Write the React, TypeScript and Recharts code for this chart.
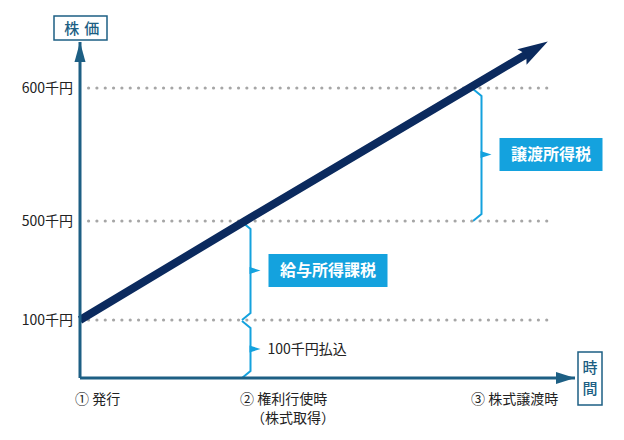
import React from 'react';
import { LineChart, Line, XAxis, YAxis, ReferenceLine, ReferenceArea, ReferenceDot } from 'recharts';

// 時間（模式的な目盛）と株価（千円）
const times = [0, 5, 11.8, 13.55];
const prices = [100, 500, 600, 626];

const xTicks = [0, 5, 12];
const xTickLabels = ['① 発行', '② 権利行使時', '③ 株式譲渡時'];
const xTickSubLabels = ['', '（株式取得）', ''];

const yTicks = [100, 500, 600];

// braces: where, from which price to which, and the text beside them
const braceAt = [12, 5, 5];
const braceTop = [600, 500, 100];
const braceBottom = [500, 100, 0];
const braceLabels = ['譲渡所得税', '給与所得課税', '100千円払込'];
const braceBoxed = [true, true, false];

const AXIS = '#1d5f84';
const NAVY = '#0b2a5e';
const BLUE = '#14a2de';
const DOT = '#a6a6a6';
const INK = '#222';
const FONT = '"Noto Sans CJK JP", "Noto Sans", sans-serif';

// the price axis is schematic, not linear: value -> share of the plot height
const yStops: [number, number][] = [[0, 0], [100, 0.1726], [500, 0.4673], [600, 0.8631], [635, 1]];

function schematicScale(): any {
  let dom: number[] = [0, 635];
  let rng: number[] = [1, 0];
  const frac = (v: number) => {
    let i = 1;
    while (i < yStops.length - 1 && v > yStops[i][0]) i++;
    const [v0, f0] = yStops[i - 1];
    const [v1, f1] = yStops[i];
    return f0 + ((v - v0) / (v1 - v0)) * (f1 - f0);
  };
  const scale: any = (v: number) => rng[0] + frac(Number(v)) * (rng[1] - rng[0]);
  scale.domain = (d?: number[]) => {
    if (d === undefined) return dom;
    dom = [...d];
    return scale;
  };
  scale.range = (r?: number[]) => {
    if (r === undefined) return rng;
    rng = [...r];
    return scale;
  };
  scale.copy = () => schematicScale().domain(dom).range(rng);
  scale.ticks = () => yTicks;
  return scale;
}

const lineData = times.map((t, i) => ({ t, price: prices[i] }));

const ArrowHead = (props: any) => {
  const { cx, cy, index, points } = props;
  if (index !== times.length - 1) return <g key={index} />;
  let ang = -30.8;
  if (points && points[index - 1]) {
    const prev = points[index - 1];
    ang = (Math.atan2(cy - prev.y, cx - prev.x) * 180) / Math.PI;
  }
  return (
    <polygon
      key={index}
      points="24,0 -6,-9 -1,0 -6,9"
      fill={NAVY}
      transform={`translate(${cx},${cy}) rotate(${ang})`}
    />
  );
};

const XTick = ({ x, y, index }: any) => (
  <g>
    <text x={x - 5} y={y + 18} fontSize={14} fill={INK} fontFamily={FONT}>
      {xTickLabels[index]}
    </text>
    {xTickSubLabels[index] && (
      <text x={x + 6} y={y + 37} fontSize={14} fill={INK} fontFamily={FONT}>
        {xTickSubLabels[index]}
      </text>
    )}
  </g>
);

const YTick = ({ x, y, payload }: any) => (
  <text x={x + 1} y={y + 5} textAnchor="end" fontSize={14} fill={INK} fontFamily={FONT}>
    {payload.value}千円
  </text>
);

const YArrow = ({ cx, cy }: any) => (
  <g>
    <polygon points={`${cx},${cy} ${cx - 5.5},${cy + 20} ${cx + 5.5},${cy + 20}`} fill={AXIS} />
    <rect x={cx - 26} y={cy - 26} width={53} height={24} fill="#fff" stroke={AXIS} strokeWidth={1.5} />
    <text x={cx - 8.3} y={cy - 8} textAnchor="middle" fontSize={15} fill={AXIS} fontFamily={FONT} fontWeight={500}>株</text>
    <text x={cx + 11.7} y={cy - 8} textAnchor="middle" fontSize={15} fill={AXIS} fontFamily={FONT} fontWeight={500}>価</text>
  </g>
);

const XArrow = ({ cx, cy }: any) => (
  <g>
    <polygon points={`${cx},${cy} ${cx - 19},${cy - 6} ${cx - 19},${cy + 6}`} fill={AXIS} />
    <rect x={cx + 3} y={cy - 26} width={24} height={53} fill="#fff" stroke={AXIS} strokeWidth={1.5} />
    <text x={cx + 15} y={cy - 5} textAnchor="middle" fontSize={15} fill={AXIS} fontFamily={FONT} fontWeight={500}>時</text>
    <text x={cx + 15} y={cy + 16} textAnchor="middle" fontSize={15} fill={AXIS} fontFamily={FONT} fontWeight={500}>間</text>
  </g>
);

const Brace = ({ x, y, height, label, boxed }: any) => {
  const ax = x - 3;
  const vx = x + 5.5;
  const top = y + 1;
  const bot = y + height;
  const mid = y + height / 2;
  const w = label.length * 16 + 23;
  return (
    <g>
      <path
        d={`M${ax},${top} L${vx},${top + 7} L${vx},${bot - 7} L${ax},${bot}`}
        fill="none"
        stroke={BLUE}
        strokeWidth={2}
        strokeLinejoin="miter"
      />
      <polygon points={`${vx - 1},${mid - 3.5} ${vx + 10},${mid} ${vx - 1},${mid + 3.5}`} fill={BLUE} />
      {boxed ? (
        <g>
          <rect x={vx + 18} y={mid - 16.5} width={w} height={33} fill={BLUE} />
          <text x={vx + 18 + w / 2} y={mid + 6} textAnchor="middle" fontSize={16} fontWeight="bold" fill="#fff" fontFamily={FONT}>
            {label}
          </text>
        </g>
      ) : (
        <text x={vx + 17} y={mid + 5} fontSize={14} fill={INK} fontFamily={FONT}>
          {label}
        </text>
      )}
    </g>
  );
};

export default function App() {
  return (
    <div style={{ position: 'absolute', left: 0, top: 0, width: 624, height: 440, background: '#fff' }}>
      <LineChart width={624} height={440} data={lineData} margin={{ top: 42, right: 49, bottom: 0, left: 0 }}>
        {yTicks.map((v) => (
          <ReferenceLine
            key={`lvl-${v}`}
            segment={[{ x: 0.26, y: v }, { x: 14.2, y: v }]}
            stroke={DOT}
            strokeWidth={3.2}
            strokeDasharray="0 8.33"
            strokeLinecap="round"
            ifOverflow="visible"
          />
        ))}
        {braceAt.map((t, i) => (
          <ReferenceArea
            key={`brace-${i}`}
            x1={t}
            x2={t + 0.25}
            y1={braceTop[i]}
            y2={braceBottom[i]}
            ifOverflow="visible"
            shape={(p: any) => <Brace {...p} label={braceLabels[i]} boxed={braceBoxed[i]} />}
          />
        ))}
        <Line
          type="linear"
          dataKey="price"
          stroke={NAVY}
          strokeWidth={8}
          dot={ArrowHead}
          activeDot={false}
          isAnimationActive={false}
        />
        <XAxis
          type="number"
          dataKey="t"
          domain={[0, 15]}
          ticks={xTicks}
          tick={XTick}
          tickLine={false}
          height={62}
          axisLine={{ stroke: AXIS, strokeWidth: 3 }}
        />
        <YAxis
          type="number"
          domain={[0, 635]}
          scale={schematicScale()}
          ticks={yTicks}
          tick={YTick}
          tickLine={false}
          width={80}
          axisLine={{ stroke: AXIS, strokeWidth: 3 }}
        />
        <ReferenceDot x={0} y={635} r={0} ifOverflow="visible" shape={YArrow} />
        <ReferenceDot x={15} y={0} r={0} ifOverflow="visible" shape={XArrow} />
      </LineChart>
    </div>
  );
}
